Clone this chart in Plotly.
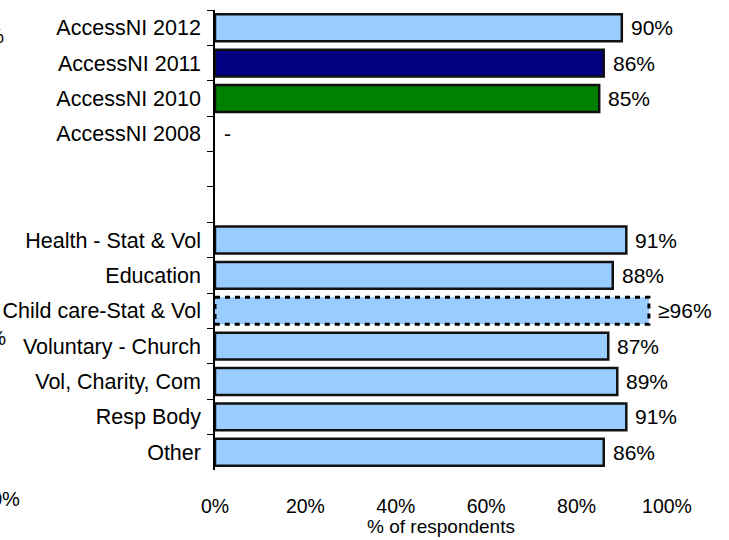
import plotly.graph_objects as go

# Categories listed top to bottom; the two blank entries are spacer rows
categories = [
    "AccessNI 2012", "AccessNI 2011", "AccessNI 2010", "AccessNI 2008",
    " ", "  ",
    "Health - Stat & Vol", "Education", "Child care-Stat & Vol",
    "Voluntary - Church", "Vol, Charity, Com", "Resp Body", "Other",
]
values = [90, 86, 85, None, None, None, 91, 88, 96, 87, 89, 91, 86]
value_labels = ["90%", "86%", "85%", "-", "", "", "91%", "88%", "≥96%",
                "87%", "89%", "91%", "86%"]
bar_colors = ["#99CCFF", "#000080", "#008000", "#99CCFF", "#99CCFF", "#99CCFF",
              "#99CCFF", "#99CCFF", "#99CCFF", "#99CCFF", "#99CCFF", "#99CCFF",
              "#99CCFF"]
# Category whose bar is drawn with a dashed outline (lower-bound estimate)
dashed_category = "Child care-Stat & Vol"
x_ticks = [0, 20, 40, 60, 80, 100]
x_title = "% of respondents"

FONT = "Arial, Liberation Sans, sans-serif"
BARGAP = 0.24

line_widths = [0 if c == dashed_category else 2.5 for c in categories]

fig = go.Figure()
fig.add_trace(go.Bar(
    y=categories,
    x=values,
    orientation="h",
    marker=dict(color=bar_colors, line=dict(color="#111111", width=line_widths)),
    hoverinfo="skip",
))

# Dashed outline around the lower-bound bar
idx = categories.index(dashed_category)
half = (1 - BARGAP) / 2
fig.add_shape(
    type="rect", xref="x", yref="y",
    x0=0, x1=values[idx], y0=idx - half, y1=idx + half,
    line=dict(color="#000000", width=3, dash="5px,5px"),
    fillcolor="rgba(0,0,0,0)",
)

# Value labels placed just past the end of each bar
for cat, val, lab in zip(categories, values, value_labels):
    if not lab:
        continue
    fig.add_annotation(
        x=val if val is not None else 0, y=cat, xref="x", yref="y",
        text=lab, showarrow=False, xanchor="left", yanchor="middle",
        xshift=7,
        font=dict(family=FONT, size=21, color="#000000"),
    )

# Axis labels of the neighbouring panel, clipped at the left edge
for txt, ypix, right_px in [("100%", 36, 6), ("50%", 338, 8), ("0%", 499, 22)]:
    fig.add_annotation(
        x=0, y=1 - (ypix - 10) / 460, xref="paper", yref="paper",
        text=txt, showarrow=False, xanchor="right", yanchor="middle",
        xshift=-(215 - right_px),
        font=dict(family=FONT, size=20, color="#000000"),
    )

fig.update_layout(
    width=729, height=540,
    margin=dict(l=215, r=62, t=10, b=70, autoexpand=False),
    paper_bgcolor="white", plot_bgcolor="white",
    bargap=BARGAP,
    showlegend=False,
    font=dict(family=FONT, color="#000000"),
)
fig.update_xaxes(
    range=[0, 100],
    tickvals=x_ticks,
    ticktext=[f"{t}%" for t in x_ticks],
    tickfont=dict(size=19.5, family=FONT, color="#000000"),
    showgrid=False, zeroline=False, showline=False,
    ticks="", ticklabelstandoff=22, automargin=False,
    title=dict(text=x_title, font=dict(size=19, family=FONT, color="#000000"), standoff=4),
)
fig.update_yaxes(
    type="category",
    categoryorder="array", categoryarray=categories,
    autorange="reversed", automargin=False,
    tickfont=dict(size=21.5, family=FONT, color="#000000"),
    showgrid=False, zeroline=False,
    showline=True, linecolor="#000000", linewidth=1.5,
    ticks="outside", tickson="boundaries", ticklen=6,
    tickcolor="#000000", tickwidth=1,
    ticklabelstandoff=8,
)

fig.write_html("out.html")
